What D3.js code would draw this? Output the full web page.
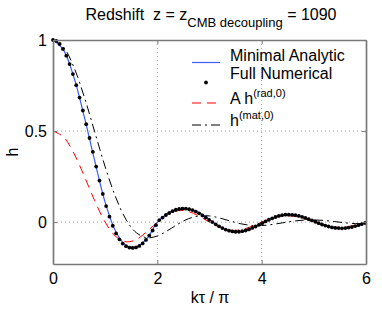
<!DOCTYPE html>
<html lang="en">
<head>
    <meta charset="UTF-8">
    <title>Redshift z = z_CMB decoupling</title>
    <script src="https://d3js.org/d3.v7.min.js"></script>
    <style>
        body { margin: 0; background: white; }
        svg text {
            font-family: "Liberation Sans", Arial, sans-serif;
            fill: #000;
        }
        .axis path, .axis line { stroke: #7a7a7a; }
        .axis path { stroke-width: 1.7; }
        .axis text { font-size: 16px; }
    </style>
</head>
<body>
    <svg width="382" height="310"></svg>

    <script>
        // horizontal axis in units of k tau / pi
        const xTicks = [0, 2, 4, 6];
        const yTicks = [0, 0.5, 1];

        // Full Numerical: dots at k tau = 0, 0.2, 0.4 ... 18.8
        const numKtau = d3.range(0, 95).map(i => i * 0.2);
        const numH = [
            1.000, 0.995, 0.978, 0.951, 0.914, 0.868, 0.813, 0.752, 0.684, 0.613,
            0.538, 0.462, 0.386, 0.305, 0.228, 0.155, 0.088, 0.030, -0.020, -0.062,
            -0.095, -0.118, -0.132, -0.140, -0.142, -0.139, -0.131, -0.117, -0.098, -0.074,
            -0.046, -0.017, 0.011, 0.025, 0.039, 0.050, 0.060, 0.068, 0.072, 0.074,
            0.074, 0.071, 0.066, 0.058, 0.048, 0.037, 0.025, 0.012, 0.000, -0.012,
            -0.023, -0.033, -0.041, -0.047, -0.051, -0.053, -0.053, -0.050, -0.046, -0.040,
            -0.032, -0.024, -0.015, -0.006, 0.004, 0.013, 0.021, 0.028, 0.034, 0.038,
            0.041, 0.041, 0.040, 0.038, 0.034, 0.029, 0.023, 0.016, 0.009, 0.002,
            -0.006, -0.013, -0.019, -0.024, -0.029, -0.032, -0.033, -0.034, -0.033, -0.030,
            -0.027, -0.022, -0.017, -0.011, -0.005
        ];

        // the three curves, sampled every 0.2 in k tau / pi
        const curveU = d3.range(0, 31).map(i => i * 0.2);
        const analyticH = [
            1.000, 0.946, 0.796, 0.578, 0.336, 0.108, -0.050, -0.128, -0.136, -0.090,
            -0.002, 0.048, 0.071, 0.071, 0.052, 0.014, -0.025, -0.049, -0.052, -0.036,
            -0.008, 0.020, 0.038, 0.040, 0.027, 0.005, -0.017, -0.031, -0.033, -0.022,
            -0.004
        ];
        const radH = [
            0.500, 0.468, 0.378, 0.252, 0.117, 0.000, -0.078, -0.108, -0.095, -0.052,
            0.000, 0.043, 0.063, 0.058, 0.033, 0.000, -0.029, -0.045, -0.042, -0.025,
            0.000, 0.022, 0.034, 0.033, 0.020, 0.000, -0.018, -0.028, -0.027, -0.016,
            0.000
        ];
        const matH = [
            1.000, 0.961, 0.851, 0.687, 0.495, 0.304, 0.138, 0.014, -0.059, -0.086,
            -0.076, -0.046, -0.010, 0.019, 0.034, 0.034, 0.022, 0.006, -0.009, -0.018,
            -0.019, -0.013, -0.004, 0.005, 0.011, 0.012, 0.009, 0.003, -0.004, -0.008,
            -0.008
        ];

        const svg = d3.select("svg");
        const plotL = 53, plotR = 366, plotT = 40, plotB = 264;

        const x = d3.scaleLinear().domain([0, 6]).range([plotL, plotR]);
        const y = d3.scaleLinear().domain([-0.23, 1]).range([plotB, plotT]);

        const radDash = "9,6";
        const matDash = "9,4,2,4";

        // dotted grid
        const grid = svg.append("g")
            .attr("stroke", "#a0a0a0")
            .attr("stroke-width", 1)
            .attr("stroke-dasharray", "1,3");
        grid.selectAll(".gx").data([2, 4]).join("line")
            .attr("x1", d => x(d)).attr("x2", d => x(d))
            .attr("y1", plotT).attr("y2", plotB);
        grid.selectAll(".gy").data([0, 0.5]).join("line")
            .attr("x1", plotL).attr("x2", plotR)
            .attr("y1", d => y(d)).attr("y2", d => y(d));

        // curves
        const line = (vals, xs) => d3.line()
            .x((d, i) => x(xs[i]))
            .y(d => y(d))
            .curve(d3.curveCatmullRom)(vals);

        svg.append("path")
            .attr("d", line(matH, curveU))
            .attr("fill", "none")
            .attr("stroke", "#000")
            .attr("stroke-width", 1)
            .attr("stroke-dasharray", matDash);

        svg.append("path")
            .attr("d", line(radH, curveU))
            .attr("fill", "none")
            .attr("stroke", "#ff0000")
            .attr("stroke-width", 1)
            .attr("stroke-dasharray", radDash);

        svg.append("path")
            .attr("d", line(analyticH, curveU))
            .attr("fill", "none")
            .attr("stroke", "#3a5cff")
            .attr("stroke-width", 1.2);

        svg.append("g").selectAll("circle")
            .data(numH)
            .join("circle")
            .attr("cx", (d, i) => x(numKtau[i] / Math.PI))
            .attr("cy", d => y(d))
            .attr("r", 1.9)
            .attr("fill", "#000");

        // axes with inward ticks
        svg.append("g").attr("class", "axis")
            .attr("transform", `translate(0,${plotB})`)
            .call(d3.axisBottom(x).tickValues(xTicks).tickFormat(d3.format("d"))
                .tickSizeInner(-4).tickSizeOuter(0).tickPadding(9));
        svg.append("g").attr("class", "axis")
            .attr("transform", `translate(0,${plotT})`)
            .call(d3.axisTop(x).tickValues(xTicks).tickFormat("")
                .tickSizeInner(-4).tickSizeOuter(0));
        svg.append("g").attr("class", "axis")
            .attr("transform", `translate(${plotL},0)`)
            .call(d3.axisLeft(y).tickValues(yTicks).tickFormat(d => d === 0.5 ? "0.5" : d3.format("d")(d))
                .tickSizeInner(-4).tickSizeOuter(0).tickPadding(6));
        svg.append("g").attr("class", "axis")
            .attr("transform", `translate(${plotR},0)`)
            .call(d3.axisRight(y).tickValues(yTicks).tickFormat("")
                .tickSizeInner(-4).tickSizeOuter(0));

        // title (keep the double space after "Redshift")
        const title = svg.append("text")
            .attr("x", 211).attr("y", 20)
            .attr("text-anchor", "middle")
            .attr("font-size", 16)
            .style("white-space", "pre");
        title.append("tspan").text("Redshift  z = z");
        title.append("tspan").attr("dy", 7).attr("font-size", 13).text("CMB decoupling");
        title.append("tspan").attr("dy", -7).text(" = 1090");

        // axis labels
        svg.append("text")
            .attr("x", 210).attr("y", 303)
            .attr("text-anchor", "middle")
            .attr("font-size", 16)
            .text("k\u03c4 / \u03c0");
        svg.append("text")
            .attr("transform", "translate(18,152) rotate(-90)")
            .attr("text-anchor", "middle")
            .attr("font-size", 16)
            .text("h");

        // legend
        const legend = svg.append("g");
        const lx0 = 192, lx1 = 220, tx = 230;

        legend.append("line")
            .attr("x1", lx0).attr("x2", lx1).attr("y1", 62.5).attr("y2", 62.5)
            .attr("stroke", "#3a5cff").attr("stroke-width", 1.2);
        legend.append("text").attr("x", tx).attr("y", 61).attr("font-size", 16)
            .text("Minimal Analytic");

        legend.append("circle").attr("cx", 206).attr("cy", 82.5).attr("r", 1.9);
        legend.append("text").attr("x", tx).attr("y", 79).attr("font-size", 16)
            .text("Full Numerical");

        legend.append("line")
            .attr("x1", lx0).attr("x2", lx1).attr("y1", 103).attr("y2", 103)
            .attr("stroke", "#ff0000").attr("stroke-width", 1)
            .attr("stroke-dasharray", radDash);
        const t3 = legend.append("text").attr("x", tx).attr("y", 104).attr("font-size", 16);
        t3.append("tspan").text("A h");
        t3.append("tspan").attr("dy", -7).attr("font-size", 11).text("(rad,0)");

        legend.append("line")
            .attr("x1", lx0).attr("x2", lx1).attr("y1", 125).attr("y2", 125)
            .attr("stroke", "#000").attr("stroke-width", 1)
            .attr("stroke-dasharray", matDash);
        const t4 = legend.append("text").attr("x", tx).attr("y", 126).attr("font-size", 16);
        t4.append("tspan").text("h");
        t4.append("tspan").attr("dy", -7).attr("font-size", 11).text("(mat,0)");
    </script>
</body>
</html>
